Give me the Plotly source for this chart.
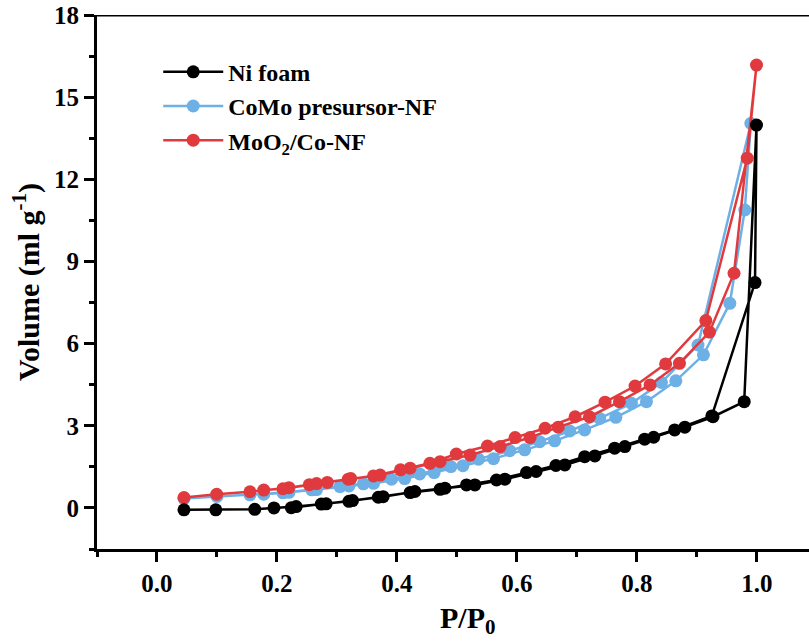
import plotly.graph_objects as go

# N2 adsorption/desorption isotherms (P/P0 vs. adsorbed volume)
# Ni foam
ni_ads_p = [0.045, 0.098, 0.163, 0.195, 0.232, 0.282, 0.326, 0.377, 0.430, 0.480, 0.530,
            0.580, 0.632, 0.680, 0.730, 0.780, 0.828, 0.880, 0.927, 0.979, 0.9995]
ni_ads_v = [-0.07, -0.07, -0.05, 0.00, 0.05, 0.15, 0.27, 0.41, 0.60, 0.72, 0.84,
            1.05, 1.33, 1.57, 1.90, 2.24, 2.58, 2.95, 3.33, 3.88, 13.98]
ni_des_p = [0.997, 0.925, 0.863, 0.813, 0.763, 0.713, 0.665, 0.616, 0.566, 0.516,
            0.472, 0.422, 0.369, 0.320, 0.274, 0.224]
ni_des_v = [8.23, 3.36, 2.85, 2.51, 2.18, 1.87, 1.55, 1.29, 1.02, 0.84,
            0.68, 0.56, 0.39, 0.24, 0.14, 0.01]

# CoMo precursor on Ni foam
como_ads_p = [0.045, 0.100, 0.155, 0.220, 0.266, 0.320, 0.361, 0.413, 0.462, 0.510, 0.561,
              0.613, 0.663, 0.713, 0.765, 0.816, 0.865, 0.911, 0.955, 0.980, 0.990]
como_ads_v = [0.34, 0.42, 0.48, 0.57, 0.67, 0.80, 0.90, 1.07, 1.29, 1.54, 1.80,
              2.12, 2.45, 2.85, 3.31, 3.88, 4.64, 5.59, 7.47, 10.88, 14.04]
como_des_p = [0.902, 0.841, 0.791, 0.738, 0.688, 0.638, 0.588, 0.536, 0.490, 0.438,
              0.391, 0.344, 0.305, 0.258, 0.210, 0.178]
como_des_v = [5.95, 4.58, 3.82, 3.27, 2.81, 2.42, 2.09, 1.78, 1.51, 1.24,
              1.05, 0.88, 0.78, 0.66, 0.55, 0.50]

# MoO2/Co on Ni foam
moo2_ads_p = [0.045, 0.0995, 0.155, 0.220, 0.266, 0.323, 0.372, 0.422, 0.472, 0.522,
              0.572, 0.622, 0.669, 0.721, 0.771, 0.822, 0.871, 0.921, 0.962, 0.9995]
moo2_ads_v = [0.38, 0.50, 0.59, 0.74, 0.89, 1.07, 1.20, 1.45, 1.69, 1.93,
              2.24, 2.57, 2.95, 3.33, 3.88, 4.49, 5.28, 6.42, 8.57, 16.17]
moo2_des_p = [0.984, 0.915, 0.848, 0.797, 0.747, 0.697, 0.647, 0.597, 0.551, 0.499,
              0.455, 0.406, 0.361, 0.319, 0.284, 0.254, 0.210, 0.178]
moo2_des_v = [12.77, 6.84, 5.26, 4.45, 3.86, 3.33, 2.91, 2.57, 2.26, 1.97,
              1.63, 1.39, 1.17, 1.05, 0.93, 0.85, 0.70, 0.65]

x_ticks = [0.0, 0.2, 0.4, 0.6, 0.8, 1.0]
y_ticks = [0, 3, 6, 9, 12, 15, 18]

FONT = "Liberation Serif"
BLACK = "#000000"
BLUE = "#6cb0e6"
RED = "#e03a3e"

series = [
    ("CoMo presursor-NF", como_ads_p + como_des_p, como_ads_v + como_des_v, BLUE, 2),
    ("MoO<sub>2</sub>/Co-NF", moo2_ads_p + moo2_des_p, moo2_ads_v + moo2_des_v, RED, 3),
    ("Ni foam", ni_ads_p + ni_des_p, ni_ads_v + ni_des_v, BLACK, 1),
]

fig = go.Figure()
for name, xs, ys, color, rank in series:
    fig.add_trace(go.Scatter(
        x=xs, y=ys, name=name, mode="lines+markers",
        line=dict(color=color, width=2.5),
        marker=dict(color=color, size=13, symbol="circle"),
        legendrank=rank,
    ))

axis_common = dict(
    showline=True, linecolor="black", linewidth=3,
    ticks="outside", ticklen=10, tickwidth=3, tickcolor="black",
    showgrid=False, zeroline=False,
    tickfont=dict(family=FONT, size=25, color="black", weight="bold"),
)

fig.update_xaxes(
    range=[-0.1, 1.087], tickvals=x_ticks, ticktext=[f"{v:.1f}" for v in x_ticks],
    minor=dict(dtick=0.1, tick0=0.1, ticks="outside", ticklen=5, tickwidth=3, tickcolor="black"),
    **axis_common,
)
fig.update_yaxes(
    range=[-1.5, 18], tickvals=y_ticks,
    minor=dict(dtick=1.5, tick0=1.5, ticks="outside", ticklen=5, tickwidth=3, tickcolor="black"),
    title=dict(text="Volume (ml g<sup>-1</sup>)", font=dict(family=FONT, size=30, color="black", weight="bold"),
               standoff=6),
    **axis_common,
)

# x-axis title, centred under the 0–1 pressure span
fig.add_annotation(
    text="P/P<sub>0</sub>", xref="paper", yref="paper", x=0.521, y=-0.094,
    xanchor="center", yanchor="top", showarrow=False,
    font=dict(family=FONT, size=30, color="black", weight="bold"),
)

# top frame line
fig.add_shape(type="line", xref="paper", yref="y", x0=0, x1=1, y0=18, y1=18,
              line=dict(color="black", width=3))

fig.update_layout(
    width=809, height=643,
    margin=dict(l=97, r=0, t=15, b=94),
    paper_bgcolor="white", plot_bgcolor="white",
    showlegend=True,
    legend=dict(
        x=0.086, y=0.935, xanchor="left", yanchor="top",
        bgcolor="rgba(0,0,0,0)", itemwidth=60, tracegroupgap=0,
        font=dict(family=FONT, size=24, color="black", weight="bold"),
    ),
)

fig.write_html("out.html")
